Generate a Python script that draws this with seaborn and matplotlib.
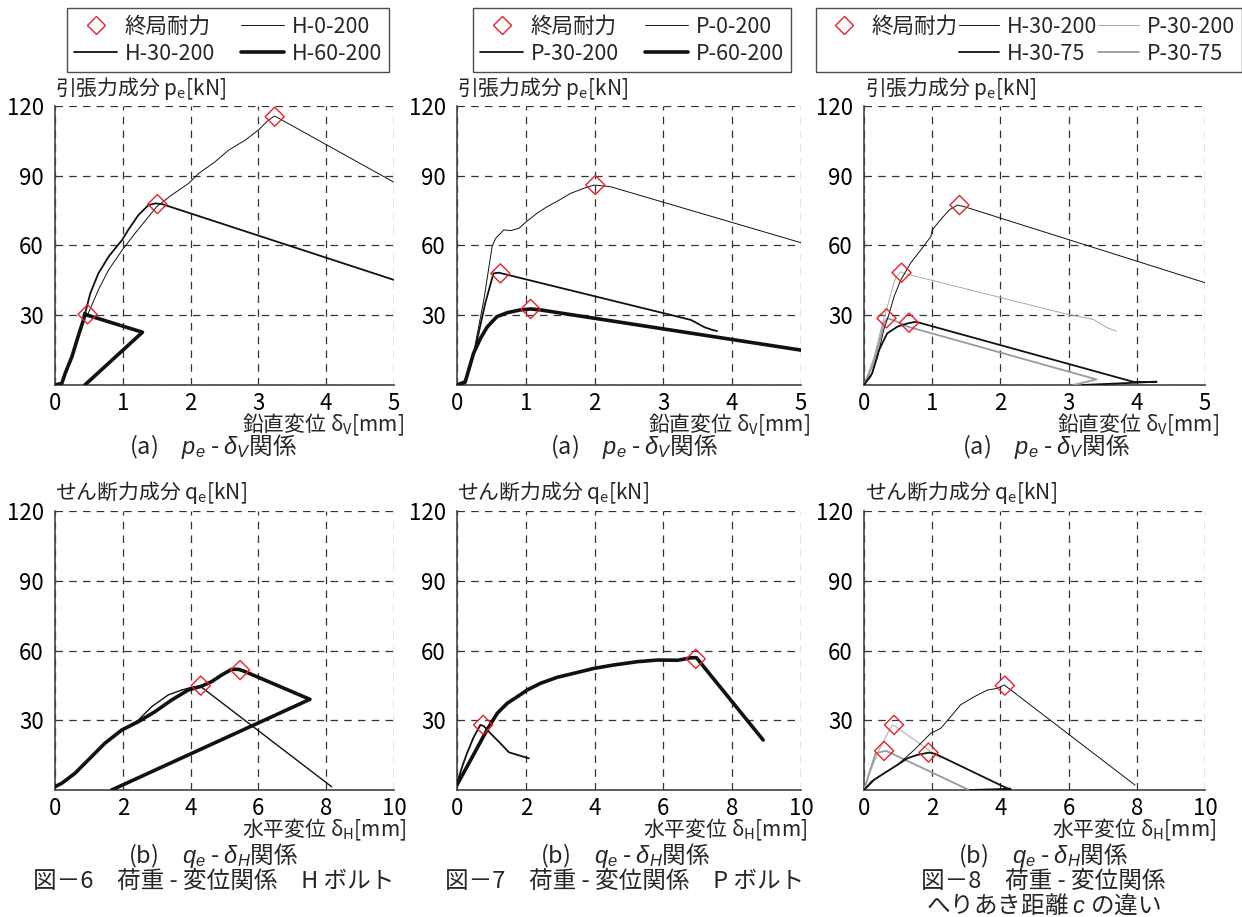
import matplotlib
matplotlib.use("Agg")
import matplotlib.pyplot as plt
from matplotlib.lines import Line2D
import seaborn as sns

# ---------------- data ----------------
# Fig.6 (a) pe - dV, H bolts
H0_200_V_x = [0, 0.1, 0.15, 0.25, 0.34, 0.42, 0.49, 0.64, 0.79, 0.99, 1.18, 1.38, 1.5, 1.72, 1.97, 2.12, 2.36, 2.56, 2.81, 3.0, 3.15, 3.24, 5.0]
H0_200_V_y = [0, 0.7, 5, 12.2, 20.8, 28, 30.8, 40.9, 49.5, 58, 65.2, 72.4, 76.7, 81.7, 86.7, 91, 96, 101, 105.4, 109.7, 114, 115.7, 87.2]
H30_200_V_x = [0, 0.1, 0.15, 0.25, 0.34, 0.42, 0.47, 0.52, 0.64, 0.79, 0.99, 1.08, 1.23, 1.38, 1.48, 1.58, 5.0]
H30_200_V_y = [0, 0.7, 5, 12.2, 20.8, 28, 33.7, 39.4, 48, 55.2, 62.4, 66.7, 73.1, 77.4, 78.1, 77.8, 45.2]
H60_200_V_x = [0, 0.1, 0.15, 0.25, 0.34, 0.42, 0.44, 0.47, 1.29, 0.44]
H60_200_V_y = [0, 0.7, 5, 12.2, 20.8, 28, 30.8, 30.1, 22.7, 0]
fig6a_peak_x = [3.24, 1.51, 0.48]
fig6a_peak_y = [115.4, 77.8, 30.4]

# Fig.7 (a) pe - dV, P bolts
P0_200_V_x = [0, 0.12, 0.24, 0.39, 0.51, 0.56, 0.68, 0.78, 0.9, 0.99, 1.16, 1.31, 1.45, 1.65, 1.84, 1.99, 2.13, 2.23, 5.0]
P0_200_V_y = [0, 0.7, 13.6, 36.6, 59.5, 63, 66.7, 66.4, 67.4, 69.8, 73.8, 76.7, 78.9, 82.4, 84.6, 86, 85.6, 85.3, 61.2]
P30_200_V_x = [0, 0.12, 0.26, 0.41, 0.53, 0.61, 0.65, 3.4, 3.6, 3.7, 3.78]
P30_200_V_y = [0, 0.7, 15, 35.1, 48, 48.3, 48, 28, 24.8, 23.8, 23.2]
P60_200_V_x = [0, 0.12, 0.24, 0.34, 0.44, 0.58, 0.73, 0.92, 1.07, 1.21, 5.0]
P60_200_V_y = [0, 1.4, 13.6, 20, 25, 29.4, 31.1, 32.3, 32.7, 32.3, 15]
fig7a_peak_x = [2.01, 0.63, 1.07]
fig7a_peak_y = [86, 48, 32.7]

# Fig.8 (a) pe - dV, edge distance
H30_200c_V_x = [0, 0.1, 0.2, 0.29, 0.37, 0.44, 0.54, 0.68, 0.83, 0.98, 1.0, 1.12, 1.25, 1.37, 1.47, 5.0]
H30_200c_V_y = [0, 3.6, 12.2, 23.7, 30.8, 38, 45.2, 52.3, 58, 63.8, 66.7, 71, 75.3, 77.4, 76.7, 44]
P30_200c_V_x = [0, 0.15, 0.27, 0.37, 0.46, 0.54, 0.59, 2.93, 3.36, 3.56, 3.70]
P30_200c_V_y = [0, 12.2, 26.5, 36.6, 45.9, 48.7, 48, 30.8, 28.2, 24.7, 23.2]
H30_75_V_x = [0, 0.12, 0.22, 0.34, 0.49, 0.64, 0.76, 3.97, 4.29, 3.2]
H30_75_V_y = [0, 5, 15, 22.2, 25.1, 26.5, 27.2, 1.2, 1.4, 0]
P30_75_V_x = [0, 0.12, 0.22, 0.29, 0.34, 0.42, 0.54, 0.64, 3.41, 3.07]
P30_75_V_y = [0, 7.9, 17.9, 26.5, 28.7, 28, 26.5, 25.1, 2.4, 0]
fig8a_peak_x = [1.40, 0.55, 0.33, 0.66]
fig8a_peak_y = [77.4, 48.3, 28.7, 26.8]

# Fig.6 (b) qe - dH
H30_200_H_x = [0, 0.2, 0.59, 0.98, 1.47, 1.97, 2.46, 2.85, 3.34, 3.74, 4.03, 4.28, 8.16]
H30_200_H_y = [1.4, 2.9, 7.2, 12.9, 20.1, 25.8, 30.1, 35.8, 40.9, 43, 44.2, 44.7, 1.4]
H60_200_H_x = [0, 0.2, 0.59, 0.98, 1.47, 1.97, 2.46, 2.95, 3.44, 3.93, 4.33, 4.62, 4.92, 5.21, 5.41, 5.56, 7.52, 1.67]
H60_200_H_y = [1.4, 2.9, 7.2, 12.9, 20.1, 25.8, 29.4, 33.7, 38.7, 43, 44.7, 46.6, 49.5, 51.9, 51.9, 51.2, 39, 0]
fig6b_peak_x = [4.30, 5.46]
fig6b_peak_y = [44.9, 51.6]

# Fig.7 (b) qe - dH
P30_200_H_x = [0, 0.15, 0.29, 0.49, 0.68, 0.78, 0.97, 1.26, 1.51, 2.09]
P30_200_H_y = [2.9, 10, 15.8, 22.9, 28, 27.5, 24.4, 20.1, 16.2, 13.6]
P60_200_H_x = [0, 0.29, 0.58, 0.87, 1.17, 1.46, 1.75, 2.04, 2.43, 2.92, 3.4, 3.98, 4.57, 5.25, 5.83, 6.42, 6.81, 6.96, 8.9]
P60_200_H_y = [2.2, 10, 17.9, 25.8, 33, 37.3, 40.1, 43, 45.9, 48.5, 50.2, 52.3, 53.8, 55.2, 55.9, 55.8, 56.9, 56.9, 21.5]
fig7b_peak_x = [0.76, 6.94]
fig7b_peak_y = [28, 56.4]

# Fig.8 (b) qe - dH
H30_200c_H_x = [0, 0.2, 0.59, 0.98, 1.47, 1.96, 2.25, 2.54, 2.83, 3.23, 3.62, 3.91, 4.11, 7.95]
H30_200c_H_y = [0, 3.6, 7.2, 10.8, 17.2, 24.4, 26.5, 31.5, 36.6, 40.1, 43, 43.7, 45.2, 2.1]
H30_75_H_x = [0, 0.29, 0.59, 0.98, 1.27, 1.56, 1.91, 2.1, 4.2, 4.3, 3.1]
H30_75_H_y = [0, 4.3, 7.2, 10.8, 13.6, 15.1, 16.1, 15.5, 0.7, 0.5, 0]
P30_200c_H_x = [0, 0.2, 0.44, 0.64, 0.83, 0.93, 2.25]
P30_200c_H_y = [0, 8.6, 17.2, 22.9, 28, 27.2, 13.6]
P30_75_H_x = [0, 0.15, 0.34, 0.54, 0.64, 3.08]
P30_75_H_y = [0, 7.2, 15.8, 16.5, 16.9, 0]
fig8b_peak_x = [4.13, 0.88, 1.89, 0.59]
fig8b_peak_y = [44.9, 28, 16.1, 16.8]

y_ticks = [0, 30, 60, 90, 120]
y_ticklabels = ["", "30", "60", "90", "120"]
xV_ticks = [0, 1, 2, 3, 4, 5]
xH_ticks = [0, 2, 4, 6, 8, 10]
peak_label = "終局耐力"

# ---------------- style ----------------
sns.set_theme(style="white")
plt.rcParams["font.family"] = ["Noto Sans CJK JP", "DejaVu Sans"]
plt.rcParams["mathtext.fontset"] = "custom"
plt.rcParams["mathtext.rm"] = "Noto Sans CJK JP"
plt.rcParams["mathtext.it"] = "Liberation Sans:italic"
plt.rcParams["mathtext.bf"] = "Noto Sans CJK JP:bold"

W, H = 1242, 917
fig = plt.figure(figsize=(W / 100, H / 100), dpi=100)

def fx(px):
    return px / W

def fy(py):
    return 1 - py / H

RED = "#e8202a"
BLACK = "#111111"
GRAY_T = "#a8a8a8"
GRAY_M = "#9a9a9a"
LW_THIN, LW_MED, LW_THICK = 0.7, 1.3, 2.6
FS_TICK = 16
FS_LEG = 15.5
FS_LAB = 15
FS_CAP = 17

col_px = [(55, 394), (457, 801), (864, 1205)]
row_px = [(106, 385), (511, 790)]

def make_ax(ci, ri, xmax, xticks):
    l, r = col_px[ci]
    t, b = row_px[ri]
    ax = fig.add_axes([fx(l), fy(b), (r - l) / W, (b - t) / H])
    ax.set_xlim(0, xmax)
    ax.set_ylim(0, 120)
    ax.set_xticks(xticks)
    ax.set_xticklabels([str(v) for v in xticks])
    ax.set_yticks(y_ticks)
    ax.set_yticklabels(y_ticklabels)
    ax.grid(True, linestyle=(0, (6, 5)), color="#333333", linewidth=0.9)
    ax.set_axisbelow(True)
    for s in ["top", "right"]:
        ax.spines[s].set_visible(False)
    for s in ["left", "bottom"]:
        ax.spines[s].set_color("#444444")
        ax.spines[s].set_linewidth(1.2)
    ax.tick_params(axis="both", length=0, labelsize=FS_TICK, colors="black")
    ax.tick_params(axis="x", pad=5)
    ax.tick_params(axis="y", pad=8)
    ax.set_xlabel("")
    ax.set_ylabel("")
    return ax

def curve(ax, x, y, color, lw):
    sns.lineplot(x=x, y=y, sort=False, estimator=None, color=color,
                 linewidth=lw, ax=ax, legend=False, zorder=3)

def peaks(ax, x, y):
    sns.scatterplot(x=x, y=y, marker="D", s=95, facecolor="none",
                    edgecolor=RED, linewidth=1.0, ax=ax, legend=False, zorder=5)

def lh(color, lw):
    return Line2D([], [], color=color, linewidth=lw)

mk = Line2D([], [], linestyle="none", marker="D", markersize=9.5,
            markerfacecolor="none", markeredgecolor=RED, markeredgewidth=1.0)
blank = Line2D([], [], linestyle="none")

def legend(ax, handles, labels, cx, ncol, colsp, hl=2.0):
    lg = ax.legend(handles, labels, loc="upper center", bbox_to_anchor=(fx(cx), fy(8)),
                   bbox_transform=fig.transFigure, ncol=ncol, fontsize=FS_LEG,
                   frameon=True, fancybox=False, edgecolor="#222222",
                   handlelength=hl, handletextpad=0.35, columnspacing=colsp,
                   borderpad=0.35, labelspacing=0.25, borderaxespad=0)
    lg.get_frame().set_linewidth(1.0)

# ---- Fig 6 (a)
ax = make_ax(0, 0, 5, xV_ticks)
curve(ax, H0_200_V_x, H0_200_V_y, BLACK, LW_THIN)
curve(ax, H30_200_V_x, H30_200_V_y, BLACK, LW_MED)
curve(ax, H60_200_V_x, H60_200_V_y, BLACK, LW_THICK)
peaks(ax, fig6a_peak_x, fig6a_peak_y)
legend(ax, [mk, lh(BLACK, LW_MED), lh(BLACK, LW_THIN), lh(BLACK, LW_THICK)],
       [peak_label, "H-30-200", "H-0-200", "H-60-200"], 228, 2, 1.2)

# ---- Fig 7 (a)
ax = make_ax(1, 0, 5, xV_ticks)
curve(ax, P0_200_V_x, P0_200_V_y, BLACK, LW_THIN)
curve(ax, P30_200_V_x, P30_200_V_y, BLACK, LW_MED)
curve(ax, P60_200_V_x, P60_200_V_y, BLACK, LW_THICK)
peaks(ax, fig7a_peak_x, fig7a_peak_y)
legend(ax, [mk, lh(BLACK, LW_MED), lh(BLACK, LW_THIN), lh(BLACK, LW_THICK)],
       [peak_label, "P-30-200", "P-0-200", "P-60-200"], 632, 2, 1.2)

# ---- Fig 8 (a)
ax = make_ax(2, 0, 5, xV_ticks)
curve(ax, P30_200c_V_x, P30_200c_V_y, GRAY_T, LW_THIN)
curve(ax, P30_75_V_x, P30_75_V_y, GRAY_M, LW_MED)
curve(ax, H30_200c_V_x, H30_200c_V_y, BLACK, LW_THIN)
curve(ax, H30_75_V_x, H30_75_V_y, BLACK, LW_MED)
peaks(ax, fig8a_peak_x, fig8a_peak_y)
legend(ax, [mk, blank, lh(BLACK, LW_THIN), lh(BLACK, LW_MED), lh(GRAY_T, LW_THIN), lh(GRAY_M, LW_MED)],
       [peak_label, "", "H-30-200", "H-30-75", "P-30-200", "P-30-75"], 1029, 3, 0.05, 1.9)

# ---- Fig 6 (b)
ax = make_ax(0, 1, 10, xH_ticks)
curve(ax, H30_200_H_x, H30_200_H_y, BLACK, 1.0)
curve(ax, H60_200_H_x, H60_200_H_y, BLACK, LW_THICK)
peaks(ax, fig6b_peak_x, fig6b_peak_y)

# ---- Fig 7 (b)
ax = make_ax(1, 1, 10, xH_ticks)
curve(ax, P30_200_H_x, P30_200_H_y, BLACK, LW_MED)
curve(ax, P60_200_H_x, P60_200_H_y, BLACK, LW_THICK)
peaks(ax, fig7b_peak_x, fig7b_peak_y)

# ---- Fig 8 (b)
ax = make_ax(2, 1, 10, xH_ticks)
curve(ax, P30_200c_H_x, P30_200c_H_y, GRAY_T, LW_THIN)
curve(ax, P30_75_H_x, P30_75_H_y, GRAY_M, LW_MED)
curve(ax, H30_200c_H_x, H30_200c_H_y, BLACK, LW_THIN)
curve(ax, H30_75_H_x, H30_75_H_y, BLACK, LW_MED)
peaks(ax, fig8b_peak_x, fig8b_peak_y)

# ---------------- texts ----------------
ylab_top = r"引張力成分 p$_\mathregular{e}$[kN]"
ylab_bot = r"せん断力成分 q$_\mathregular{e}$[kN]"
xlab_top = r"鉛直変位 δ$_\mathregular{V}$[mm]"
xlab_bot = r"水平変位 δ$_\mathregular{H}$[mm]"
cap_a = r"(a)　$p_e$ - $\delta_V$関係"
cap_b = r"(b)　$q_e$ - $\delta_H$関係"

ylab_left = [55, 457, 865]
xlab_right_top = [404, 810, 1219]
xlab_right_bot = [406, 807, 1216]
cap_a_cx = [213, 634, 1046]
cap_b_cx = [213, 625, 1043]

for i in range(3):
    fig.text(fx(ylab_left[i]), fy(88), ylab_top, ha="left", va="center", fontsize=FS_LAB)
    fig.text(fx(ylab_left[i]), fy(493), ylab_bot, ha="left", va="center", fontsize=FS_LAB)
    fig.text(fx(xlab_right_top[i]), fy(425), xlab_top, ha="right", va="center", fontsize=FS_LAB)
    fig.text(fx(xlab_right_bot[i]), fy(830), xlab_bot, ha="right", va="center", fontsize=FS_LAB)
    fig.text(fx(cap_a_cx[i]), fy(447), cap_a, ha="center", va="center", fontsize=FS_CAP)
    fig.text(fx(cap_b_cx[i]), fy(855), cap_b, ha="center", va="center", fontsize=FS_CAP)

fig.text(fx(214), fy(881), "図－6　荷重 - 変位関係　H ボルト", ha="center", va="center", fontsize=FS_CAP)
fig.text(fx(625), fy(881), "図－7　荷重 - 変位関係　P ボルト", ha="center", va="center", fontsize=FS_CAP)
fig.text(fx(1043), fy(881), "図－8　荷重 - 変位関係", ha="center", va="center", fontsize=FS_CAP)
fig.text(fx(1043), fy(905), r"へりあき距離 $c$ の違い", ha="center", va="center", fontsize=FS_CAP)

fig.savefig("out.png", dpi=100)
